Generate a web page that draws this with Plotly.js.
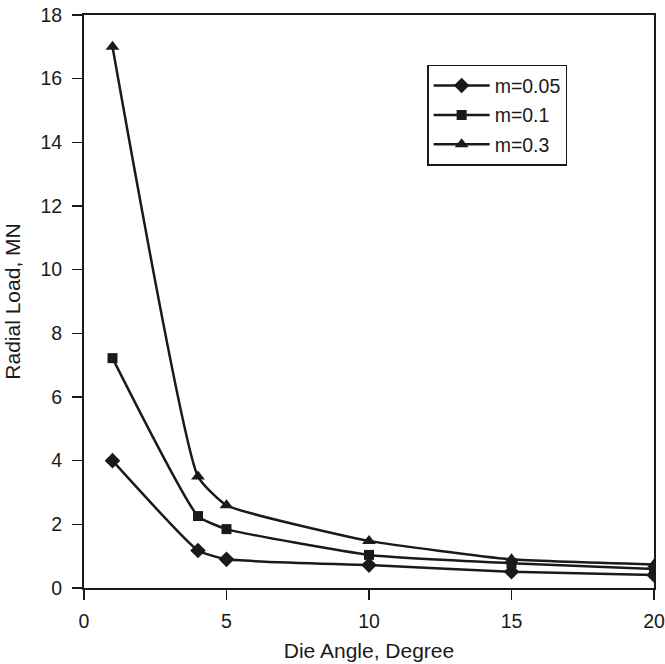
<!DOCTYPE html>
<html>
<head>
<meta charset="utf-8">
<script src="https://cdn.plot.ly/plotly-3.0.1.min.js"></script>
<style>html,body{margin:0;padding:0;background:#fff;}#chart{width:665px;height:664px;}</style>
</head>
<body>
<div id="chart"></div>
<script>
const dieAngle = [1, 4, 5, 10, 15, 20];
const m005 = [4.0, 1.18, 0.9, 0.72, 0.51, 0.41];
const m01  = [7.22, 2.26, 1.85, 1.04, 0.78, 0.6];
const m03  = [17.0, 3.5, 2.6, 1.48, 0.9, 0.74];
const seriesNames = ['m=0.05', 'm=0.1', 'm=0.3'];
const xTicks = [0, 5, 10, 15, 20];
const yTicks = [0, 2, 4, 6, 8, 10, 12, 14, 16, 18];

const col = '#1a1a1a';
function tr(y, name, sym, size, g) {
  return {
    x: dieAngle, y: y, name: name, type: 'scatter', mode: 'lines+markers',
    line: {color: col, width: 2.5, shape: 'spline', smoothing: 0.45},
    marker: {symbol: sym, size: size, color: col},
    legendgroup: g
  };
}
const data = [
  tr(m005, seriesNames[0], 'diamond', 12, 'a'),
  tr(m01, seriesNames[1], 'square', 10, 'b'),
  tr(m03, seriesNames[2], 'triangle-up', 12, 'c')
];
const fam = 'Liberation Sans, Arial, sans-serif';
const tickFont = {family: fam, size: 19.5, color: '#1a1a1a'};
const titleFont = {family: fam, size: 21, color: '#1a1a1a'};
const layout = {
  width: 665, height: 664,
  margin: {l: 84, r: 11, t: 15, b: 76},
  paper_bgcolor: '#fff', plot_bgcolor: '#fff',
  font: tickFont,
  showlegend: true,
  legend: {
    x: 0.602, y: 0.913, xanchor: 'left', yanchor: 'top',
    bordercolor: '#1a1a1a', borderwidth: 1.5, bgcolor: '#fff',
    font: {family: fam, size: 19.5, color: '#1a1a1a'},
    itemwidth: 56, tracegroupgap: 1
  },
  xaxis: {
    range: [0, 20], tickvals: xTicks, ticktext: xTicks.map(String),
    showgrid: false, zeroline: false, showline: true, linecolor: '#1a1a1a', linewidth: 2,
    mirror: true, ticks: 'outside', ticklen: 10, tickcolor: '#1a1a1a', tickwidth: 1.5,
    ticklabelstandoff: 5,
    title: {text: 'Die Angle, Degree', font: titleFont, standoff: 12},
    tickfont: tickFont
  },
  yaxis: {
    range: [0, 18], tickvals: yTicks, ticktext: yTicks.map(String),
    showgrid: false, zeroline: false, showline: true, linecolor: '#1a1a1a', linewidth: 2,
    mirror: true, ticks: 'outside', ticklen: 10, tickcolor: '#1a1a1a', tickwidth: 1.5,
    ticklabelstandoff: 6,
    title: {text: 'Radial Load, MN', font: titleFont, standoff: 14},
    tickfont: tickFont
  }
};
Plotly.newPlot('chart', data, layout, {displayModeBar: false, staticPlot: true});
</script>
</body>
</html>
